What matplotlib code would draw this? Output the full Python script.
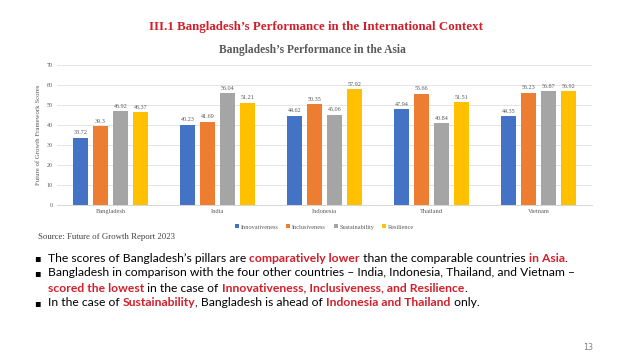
import matplotlib
matplotlib.use("Agg")
import matplotlib.pyplot as plt
import numpy as np

countries = ["Bangladesh", "India", "Indonesia", "Thailand", "Vietnam"]
series = ["Innovativeness", "Inclusiveness", "Sustainability", "Resilience"]
innovativeness = [33.72, 40.23, 44.62, 47.94, 44.35]
inclusiveness = [39.3, 41.69, 50.35, 55.66, 56.23]
sustainability = [46.92, 56.04, 45.06, 40.84, 56.87]
resilience = [46.37, 51.21, 57.92, 51.51, 56.92]
value_labels = [
    ["33.72", "40.23", "44.62", "47.94", "44.35"],
    ["39.3", "41.69", "50.35", "55.66", "56.23"],
    ["46.92", "56.04", "45.06", "40.84", "56.87"],
    ["46.37", "51.21", "57.92", "51.51", "56.92"],
]
yticks = [0, 10, 20, 30, 40, 50, 60, 70]
colors = ["#4472C4", "#ED7D31", "#A5A5A5", "#FFC000"]

serif = "Liberation Serif"
body = "Lato"

W, H = 640, 360
fig = plt.figure(figsize=(6.4, 3.6), dpi=100)
fig.patch.set_facecolor("white")

def px(x, y):
    return x / W, 1 - y / H

ax = fig.add_axes([57 / W, 1 - 205 / H, (592 - 57) / W, (205 - 65) / H])
data = [innovativeness, inclusiveness, sustainability, resilience]
x = np.arange(len(countries))
bw = 0.14
pitch = 0.187
for i, (vals, c) in enumerate(zip(data, colors)):
    off = (i - 1.5) * pitch
    ax.bar(x + off, vals, width=bw, color=c, label=series[i], zorder=3)
    for xi, v, lab in zip(x, vals, value_labels[i]):
        ax.text(xi + off, v + 1.2, lab, ha="center", va="bottom", fontsize=4.4,
                color="#595959", family=serif)
ax.set_xlim(-0.5, len(countries) - 0.5)
ax.set_ylim(0, 70)
ax.set_yticks(yticks)
ax.set_yticklabels([str(t) for t in yticks], fontsize=4.3, color="#595959", family=serif)
ax.set_xticks(x)
ax.set_xticklabels(countries, fontsize=4.6, color="#595959", family=serif)
ax.tick_params(length=0, pad=3)
ax.grid(axis="y", color="#E0E0E0", linewidth=0.6, zorder=0)
for s in ["top", "right", "left"]:
    ax.spines[s].set_visible(False)
ax.spines["bottom"].set_color("#D0D0D0")
ax.spines["bottom"].set_linewidth(0.6)
ax.set_ylabel("Future of Growth Framework Scores", fontsize=4.9, color="#595959",
              family=serif, labelpad=4)

leg = ax.legend(loc="center", bbox_to_anchor=(0.5, (205 - 227) / 140), ncol=4,
                frameon=False, fontsize=4.5, handlelength=0.6, handleheight=0.6,
                handletextpad=0.3, columnspacing=1.3)
for t in leg.get_texts():
    t.set_color("#595959")
    t.set_family(serif)

fig.text(*px(316, 27), "III.1 Bangladesh\u2019s Performance in the International Context",
         ha="center", va="center", fontsize=9.3, color="#D0202A", weight="bold", family=serif)
fig.text(*px(312, 50), "Bangladesh\u2019s Performance in the Asia",
         ha="center", va="center", fontsize=8.3, color="#595959", weight="bold", family=serif)
fig.text(*px(38, 237), "Source: Future of Growth Report 2023", ha="left", va="center",
         fontsize=6.3, color="#404040", family=serif)
fig.text(*px(593, 347), "13", ha="right", va="center", fontsize=5.8, color="#808080")

RED = "#D0202A"
BLK = "#000000"
lines = [
    (True, [("The scores of Bangladesh\u2019s pillars are ", BLK, "normal"),
            ("comparatively lower", RED, "bold"),
            (" than the comparable countries ", BLK, "normal"),
            ("in Asia", RED, "bold"), (".", BLK, "normal")]),
    (True, [("Bangladesh in comparison with the four other countries \u2013 India, Indonesia, Thailand, and Vietnam \u2013", BLK, "normal")]),
    (False, [("scored the lowest", RED, "bold"),
             (" in the case of ", BLK, "normal"),
             ("Innovativeness, Inclusiveness, and Resilience", RED, "bold"),
             (".", BLK, "normal")]),
    (True, [("In the case of ", BLK, "normal"), ("Sustainability", RED, "bold"),
            (", Bangladesh is ahead of ", BLK, "normal"),
            ("Indonesia and Thailand", RED, "bold"), (" only.", BLK, "normal")]),
]
ys = [258, 273, 288, 303]
renderer = fig.canvas.get_renderer()

# fit font size so first line spans the same width as in the reference
fs0 = 9.0
tot = 0
for txt, col, wt in lines[0][1]:
    t = fig.text(0, 0, txt, fontsize=fs0, weight=wt, family=body)
    tot += t.get_window_extent(renderer=renderer).width
    t.remove()
fs = fs0 * (567 - 48) / tot

for (bullet, segs), yy in zip(lines, ys):
    if bullet:
        fig.text(*px(37, yy), "\u25aa", ha="center", va="center", fontsize=fs * 0.8,
                 color=BLK, family="DejaVu Sans")
    xx = 48
    for txt, col, wt in segs:
        t = fig.text(*px(xx, yy), txt, ha="left", va="center", fontsize=fs,
                     color=col, weight=wt, family=body)
        bb = t.get_window_extent(renderer=renderer)
        xx += bb.width

fig.savefig("out.png", dpi=100, facecolor="white")
